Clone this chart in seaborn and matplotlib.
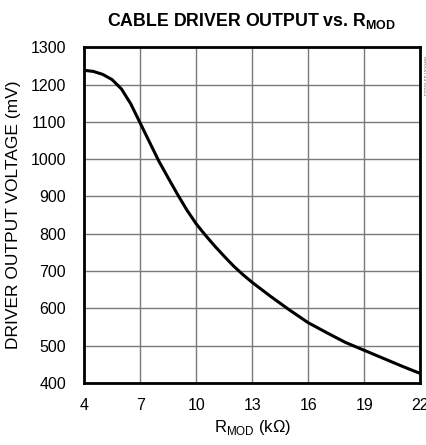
import matplotlib
matplotlib.use("Agg")
import matplotlib.pyplot as plt
import pandas as pd
import seaborn as sns

# curve
rmod = [4, 4.5, 5, 5.5, 6, 6.5, 7, 7.5, 8, 8.5, 9, 9.5, 10, 10.5, 11, 11.5, 12, 12.5,
        13, 13.5, 14, 15, 16, 17, 18, 19, 20, 21, 22]
vout = [1238, 1235, 1227, 1213, 1188, 1148, 1097, 1046, 995, 950, 906, 864, 827, 796,
        767, 740, 714, 691, 670, 651, 632, 596, 562, 535, 509, 488, 467, 446, 426]
xticks = [4, 7, 10, 13, 16, 19, 22]
yticks = [400, 500, 600, 700, 800, 900, 1000, 1100, 1200, 1300]

df = pd.DataFrame({"rmod": rmod, "vout": vout})

sns.set_style("white")
plt.rcParams["font.family"] = ["Liberation Sans", "DejaVu Sans"]
plt.rcParams["mathtext.fontset"] = "custom"
plt.rcParams["mathtext.rm"] = "Liberation Sans"
plt.rcParams["mathtext.bf"] = "Liberation Sans:bold"
for k in ["text.color", "axes.labelcolor", "xtick.color", "ytick.color"]:
    plt.rcParams[k] = "black"

fig = plt.figure(figsize=(4.27, 4.45), dpi=100)
ax = fig.add_axes([0.197, 0.139, 0.787, 0.755])

sns.lineplot(data=df, x="rmod", y="vout", ax=ax, color="black", linewidth=2.2)

ax.set_xlim(4, 22)
ax.set_ylim(400, 1300)
ax.set_xticks(xticks)
ax.set_yticks(yticks)
ax.grid(True, color="#7a7a7a", linewidth=1.0)
ax.tick_params(axis="x", length=0, labelsize=11.5, pad=11)
ax.tick_params(axis="y", length=0, labelsize=11.5, pad=13)
for s in ax.spines.values():
    s.set_linewidth(2)
    s.set_color("black")

ax.set_xlabel(r"R$_{\mathrm{MOD}}$ (kΩ)", fontsize=12, labelpad=3)
ax.set_ylabel("DRIVER OUTPUT VOLTAGE (mV)", fontsize=12.5, labelpad=7)
fig.text(0.589, 0.953, r"CABLE DRIVER OUTPUT vs. R$_{\mathbf{MOD}}$", ha="center", va="center",
         fontsize=12.8, fontweight="bold")
fig.text(0.993, 0.83, "MAX3735 toc05", rotation=270, fontsize=4, color="#666666",
         ha="center", va="center")

fig.savefig("out.png", dpi=100)
